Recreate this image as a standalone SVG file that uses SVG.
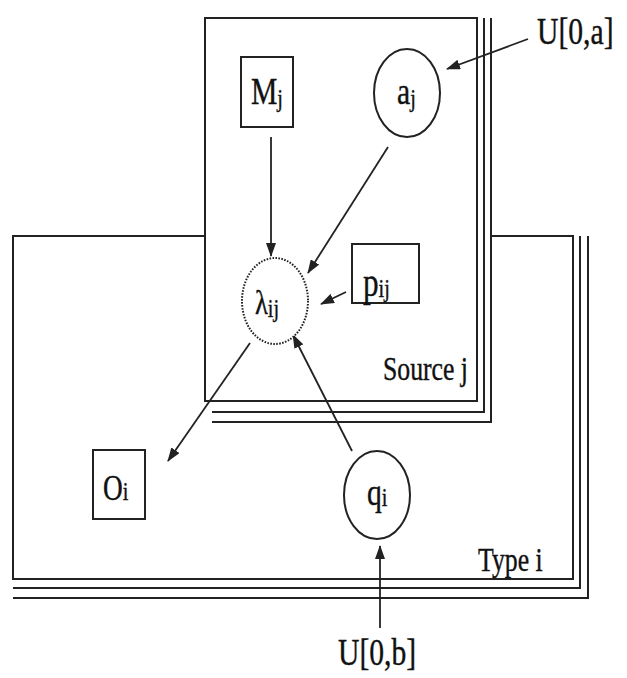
<svg xmlns="http://www.w3.org/2000/svg" width="627" height="678" viewBox="0 0 627 678">
<style>
.ln{fill:none;stroke:#222;stroke-width:2}
.bx{fill:#fff;stroke:#222;stroke-width:2}
.dot{fill:#fff;stroke:#222;stroke-width:2;stroke-dasharray:1.6 1.4}
.ar{fill:none;stroke:#222;stroke-width:1.8}
.t{font-family:"Liberation Serif","Times New Roman",serif;font-size:38px;fill:#111;stroke:#111;stroke-width:0.4}
.s{font-size:26px}
.lb{font-family:"Liberation Serif","Times New Roman",serif;font-size:33px;fill:#111;stroke:#111;stroke-width:0.4}
.u{font-family:"Liberation Serif","Times New Roman",serif;font-size:38px;fill:#111;stroke:#111;stroke-width:0.4}
</style>
<defs>
<marker id="ah" viewBox="0 0 14 10" refX="13" refY="5" markerWidth="14" markerHeight="10" markerUnits="userSpaceOnUse" orient="auto">
<path d="M0,0 L14,5 L0,10 z" fill="#222"/>
</marker>
</defs>
<g id="plate-type">
<rect x="13" y="236" width="560" height="343" class="bx"/>
<path class="ln" d="M580,236 V588 H13 M588,236 V598 H13"/>
<text class="lb" transform="matrix(0.78 0 0 1 478 571)">Type i</text>
</g>
<g id="plate-source">
<rect x="205" y="18" width="287" height="404" fill="#fff"/>
<rect x="205" y="18" width="272" height="383" class="bx"/>
<path class="ln" d="M484,18 V412 H212 M491,18 V422 H212"/>
<text class="lb" transform="matrix(0.78 0 0 1 383 380)">Source j</text>
</g>
<g id="connectors">
<line class="ar" x1="528" y1="39" x2="447" y2="69" marker-end="url(#ah)"/>
<line class="ar" x1="271" y1="137" x2="271" y2="256" marker-end="url(#ah)"/>
<line class="ar" x1="388" y1="147" x2="308" y2="273" marker-end="url(#ah)"/>
<line class="ar" x1="346" y1="292" x2="321" y2="304" marker-end="url(#ah)"/>
<line class="ar" x1="250" y1="343" x2="168" y2="461" marker-end="url(#ah)"/>
<line class="ar" x1="352" y1="451" x2="293" y2="335" marker-end="url(#ah)"/>
<line class="ar" x1="380" y1="628" x2="380" y2="546" marker-end="url(#ah)"/>
</g>
<g id="node-M">
<rect x="241" y="57" width="52" height="70" class="bx"/>
<text class="t" transform="matrix(0.78 0 0 1 251 104)">M<tspan class="s" dy="3">j</tspan></text>
</g>
<g id="node-a">
<ellipse cx="407" cy="93" rx="33" ry="44" class="bx"/>
<text class="t" transform="matrix(0.78 0 0 1 397 104)">a<tspan class="s" dy="3">j</tspan></text>
</g>
<g id="node-lambda">
<ellipse cx="275" cy="301" rx="33" ry="43" class="dot"/>
<text class="t" transform="matrix(0.78 0 0 1 255 314)" style="font-size:34px">λ<tspan class="s" dy="3">ij</tspan></text>
</g>
<g id="node-p">
<rect x="352" y="244" width="67" height="59" class="bx"/>
<text class="t" transform="matrix(0.78 0 0 1 363 296)" style="font-size:40px">p<tspan class="s" dy="1">ij</tspan></text>
</g>
<g id="node-O">
<rect x="93" y="450" width="52" height="69" class="bx"/>
<text class="t" transform="matrix(0.78 0 0 1 103 500)" style="font-size:35px">O<tspan class="s" dy="0">i</tspan></text>
</g>
<g id="node-q">
<ellipse cx="377" cy="495" rx="33" ry="44" class="bx"/>
<text class="t" transform="matrix(0.78 0 0 1 367 505)">q<tspan class="s" dy="1">i</tspan></text>
</g>
<g id="label-Ua">
<text class="u" transform="matrix(0.78 0 0 1 537 44)">U[0,a]</text>
</g>
<g id="label-Ub">
<text class="u" transform="matrix(0.78 0 0 1 338 665)">U[0,b]</text>
</g>
</svg>
